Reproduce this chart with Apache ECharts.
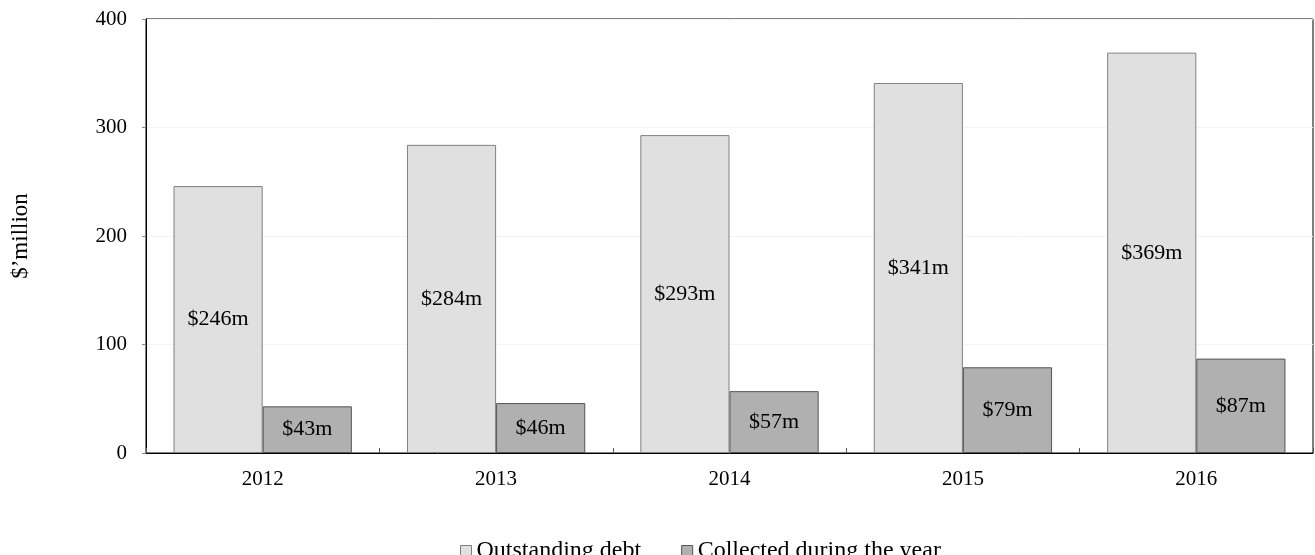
<!DOCTYPE html>
<html>
<head>
<meta charset="utf-8">
<style>
  html, body { margin: 0; padding: 0; background: #fff; }
  #chart { width: 1315px; height: 555px; }
</style>
<script src="https://cdn.jsdelivr.net/npm/echarts@6/dist/echarts.min.js"></script>
</head>
<body>
<div id="chart"></div>
<script>
// Debt figures per year, $ million
const years = ['2012', '2013', '2014', '2015', '2016'];
const outstandingDebt = [246, 284, 293, 341, 369];
const collectedDuringYear = [43, 46, 57, 79, 87];
const yTicks = [0, 100, 200, 300, 400];

const serif = '"Liberation Serif", "Times New Roman", serif';

const chart = echarts.init(document.getElementById('chart'));

const money = p => '$' + p.value + 'm';

chart.setOption({
  animation: false,
  grid: { left: 146, right: 2, top: 19, bottom: 102, show: true, borderColor: '#000', borderWidth: 1 },
  legend: {
    top: 534,
    left: 455,
    itemWidth: 11,
    itemHeight: 11,
    itemGap: 40,
    textStyle: { fontFamily: serif, fontSize: 24, color: '#000' },
    data: [
      { name: 'Outstanding debt', icon: 'rect', itemStyle: { color: '#e0e0e0', borderColor: '#808080', borderWidth: 1 } },
      { name: 'Collected during the year', icon: 'rect', itemStyle: { color: '#b0b0b0', borderColor: '#555', borderWidth: 1 } }
    ]
  },
  xAxis: {
    type: 'category',
    data: years,
    axisLine: { lineStyle: { color: '#000', width: 1 } },
    axisTick: { show: true, inside: true, length: 5, lineStyle: { color: '#555' } },
    axisLabel: { fontFamily: serif, fontSize: 21, color: '#000', margin: 16 }
  },
  yAxis: {
    type: 'value',
    min: yTicks[0],
    max: yTicks[yTicks.length - 1],
    interval: 100,
    name: '$\u2019million',
    nameLocation: 'middle',
    nameGap: 114,
    nameTextStyle: { fontFamily: serif, fontSize: 23, color: '#000' },
    axisLine: { show: true, lineStyle: { color: '#000', width: 1 } },
    axisTick: { show: true, length: 4, lineStyle: { color: '#888' } },
    axisLabel: { fontFamily: serif, fontSize: 21, color: '#000', margin: 19 },
    splitLine: { show: true, lineStyle: { color: '#f4f4f4', width: 1 } }
  },
  series: [
    {
      name: 'Outstanding debt',
      type: 'bar',
      data: outstandingDebt,
      barCategoryGap: '23.6%',
      barGap: '0%',
      itemStyle: { color: '#e0e0e0', borderColor: '#808080', borderWidth: 1 },
      label: { show: true, position: 'inside', formatter: money, fontFamily: serif, fontSize: 22, color: '#000' }
    },
    {
      name: 'Collected during the year',
      type: 'bar',
      data: collectedDuringYear,
      itemStyle: { color: '#b0b0b0', borderColor: '#555', borderWidth: 1 },
      label: { show: true, position: 'inside', formatter: money, fontFamily: serif, fontSize: 22, color: '#000' }
    }
  ]
});
</script>
</body>
</html>
